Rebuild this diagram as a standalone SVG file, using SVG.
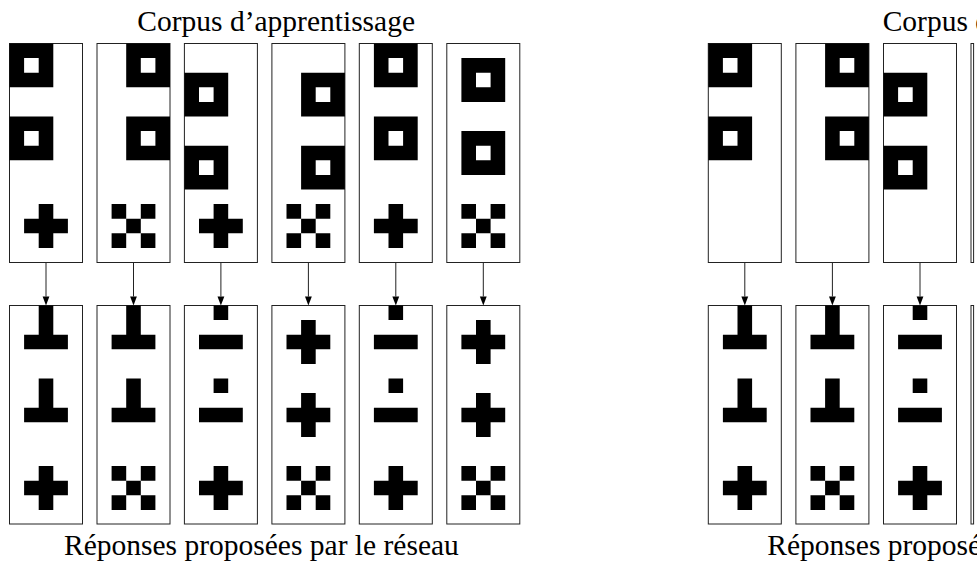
<svg xmlns="http://www.w3.org/2000/svg" xmlns:xlink="http://www.w3.org/1999/xlink" width="977" height="561" viewBox="0 0 977 561">
<style>
.box{fill:#fff;stroke:#222;stroke-width:1}
.shp{fill:#000;fill-rule:evenodd}
.lbl{font-family:"Liberation Serif","Times New Roman",serif;font-size:29.5px;fill:#000}
.con{stroke:#222;stroke-width:1;fill:none}
</style>
<defs>
<path id="sq" class="shp" d="M0 0h43.8v43.8h-43.8z M14.6 14.6v14.6h14.6v-14.6z"/>
<path id="pl" class="shp" d="M14.6 0h14.6v14.6h14.6v14.6h-14.6v14.6h-14.6v-14.6h-14.6v-14.6h14.6z"/>
<path id="xx" class="shp" d="M0 0h14.6v14.6h-14.6z M29.2 0h14.6v14.6h-14.6z M14.6 14.6h14.6v14.6h-14.6z M0 29.2h14.6v14.6h-14.6z M29.2 29.2h14.6v14.6h-14.6z"/>
<path id="tt" class="shp" d="M14.6 0h14.6v29.2h14.6v14.6h-43.8v-14.6h14.6z"/>
<path id="db" class="shp" d="M14.6 0h14.6v14.6h-14.6z M0 29.2h43.8v14.6h-43.8z"/>
<marker id="ah" markerWidth="8" markerHeight="10" refX="3.4" refY="9" orient="auto-start-reverse" markerUnits="userSpaceOnUse" viewBox="0 0 8 10">
<path d="M0 0L6.8 0L3.4 9z" fill="#000" transform="rotate(0)"/>
</marker>
</defs>

<text class="lbl" x="137.3" y="31">Corpus d’apprentissage</text>
<text class="lbl" x="64" y="555">Réponses proposées par le réseau</text>
<text class="lbl" x="882.7" y="31">Corpus d’apprentissage</text>
<text class="lbl" x="767.3" y="555">Réponses proposées par le réseau</text>

<g id="connectors">
<line class="con" x1="46" y1="262.5" x2="46" y2="296.5"/>
<line class="con" x1="133.5" y1="262.5" x2="133.5" y2="296.5"/>
<line class="con" x1="220.9" y1="262.5" x2="220.9" y2="296.5"/>
<line class="con" x1="308.4" y1="262.5" x2="308.4" y2="296.5"/>
<line class="con" x1="395.8" y1="262.5" x2="395.8" y2="296.5"/>
<line class="con" x1="483.3" y1="262.5" x2="483.3" y2="296.5"/>
<line class="con" x1="744.8" y1="262.5" x2="744.8" y2="296.5"/>
<line class="con" x1="832.4" y1="262.5" x2="832.4" y2="296.5"/>
<line class="con" x1="920" y1="262.5" x2="920" y2="296.5"/>
<g fill="#000">
<path d="M42.6 296.5h6.8l-3.4 9z"/>
<path d="M130.1 296.5h6.8l-3.4 9z"/>
<path d="M217.5 296.5h6.8l-3.4 9z"/>
<path d="M305 296.5h6.8l-3.4 9z"/>
<path d="M392.4 296.5h6.8l-3.4 9z"/>
<path d="M479.9 296.5h6.8l-3.4 9z"/>
<path d="M741.4 296.5h6.8l-3.4 9z"/>
<path d="M829 296.5h6.8l-3.4 9z"/>
<path d="M916.6 296.5h6.8l-3.4 9z"/>
</g>
</g>

<g id="in1"><rect class="box" x="9.5" y="43.5" width="73" height="219"/>
<use href="#sq" x="9.5" y="43.5"/><use href="#sq" x="9.5" y="116.5"/><use href="#pl" x="24.1" y="204.1"/></g>
<g id="in2"><rect class="box" x="97" y="43.5" width="73" height="219"/>
<use href="#sq" x="126.2" y="43.5"/><use href="#sq" x="126.2" y="116.5"/><use href="#xx" x="111.6" y="204.1"/></g>
<g id="in3"><rect class="box" x="184.4" y="43.5" width="73" height="219"/>
<use href="#sq" x="184.4" y="72.7"/><use href="#sq" x="184.4" y="145.7"/><use href="#pl" x="199" y="204.1"/></g>
<g id="in4"><rect class="box" x="271.9" y="43.5" width="73" height="219"/>
<use href="#sq" x="301.1" y="72.7"/><use href="#sq" x="301.1" y="145.7"/><use href="#xx" x="286.5" y="204.1"/></g>
<g id="in5"><rect class="box" x="359.3" y="43.5" width="73" height="219"/>
<use href="#sq" x="373.9" y="43.5"/><use href="#sq" x="373.9" y="116.5"/><use href="#pl" x="373.9" y="204.1"/></g>
<g id="in6"><rect class="box" x="446.8" y="43.5" width="73" height="219"/>
<use href="#sq" x="461.4" y="58.1"/><use href="#sq" x="461.4" y="131.1"/><use href="#xx" x="461.4" y="204.1"/></g>

<g id="out1"><rect class="box" x="9.5" y="305.5" width="73" height="218.5"/>
<use href="#tt" x="24.1" y="305.5"/><use href="#tt" x="24.1" y="378.5"/><use href="#pl" x="24.1" y="466.1"/></g>
<g id="out2"><rect class="box" x="97" y="305.5" width="73" height="218.5"/>
<use href="#tt" x="111.6" y="305.5"/><use href="#tt" x="111.6" y="378.5"/><use href="#xx" x="111.6" y="466.1"/></g>
<g id="out3"><rect class="box" x="184.4" y="305.5" width="73" height="218.5"/>
<use href="#db" x="199" y="305.5"/><use href="#db" x="199" y="378.5"/><use href="#pl" x="199" y="466.1"/></g>
<g id="out4"><rect class="box" x="271.9" y="305.5" width="73" height="218.5"/>
<use href="#pl" x="286.5" y="320.1"/><use href="#pl" x="286.5" y="393.1"/><use href="#xx" x="286.5" y="466.1"/></g>
<g id="out5"><rect class="box" x="359.3" y="305.5" width="73" height="218.5"/>
<use href="#db" x="373.9" y="305.5"/><use href="#db" x="373.9" y="378.5"/><use href="#pl" x="373.9" y="466.1"/></g>
<g id="out6"><rect class="box" x="446.8" y="305.5" width="73" height="218.5"/>
<use href="#pl" x="461.4" y="320.1"/><use href="#pl" x="461.4" y="393.1"/><use href="#xx" x="461.4" y="466.1"/></g>

<g id="rin1"><rect class="box" x="708.3" y="43.5" width="73" height="219"/>
<use href="#sq" x="708.3" y="43.5"/><use href="#sq" x="708.3" y="116.5"/></g>
<g id="rin2"><rect class="box" x="795.9" y="43.5" width="73" height="219"/>
<use href="#sq" x="825.1" y="43.5"/><use href="#sq" x="825.1" y="116.5"/></g>
<g id="rin3"><rect class="box" x="883.5" y="43.5" width="73" height="219"/>
<use href="#sq" x="883.5" y="72.7"/><use href="#sq" x="883.5" y="145.7"/></g>
<g id="rin4"><rect class="box" x="971" y="43.5" width="2.6" height="219"/></g>

<g id="rout1"><rect class="box" x="708.3" y="305.5" width="73" height="218.5"/>
<use href="#tt" x="722.9" y="305.5"/><use href="#tt" x="722.9" y="378.5"/><use href="#pl" x="722.9" y="466.1"/></g>
<g id="rout2"><rect class="box" x="795.9" y="305.5" width="73" height="218.5"/>
<use href="#tt" x="810.5" y="305.5"/><use href="#tt" x="810.5" y="378.5"/><use href="#xx" x="810.5" y="466.1"/></g>
<g id="rout3"><rect class="box" x="883.5" y="305.5" width="73" height="218.5"/>
<use href="#db" x="898.1" y="305.5"/><use href="#db" x="898.1" y="378.5"/><use href="#pl" x="898.1" y="466.1"/></g>
<g id="rout4"><rect class="box" x="971" y="305.5" width="2.6" height="218.5"/></g>
</svg>
